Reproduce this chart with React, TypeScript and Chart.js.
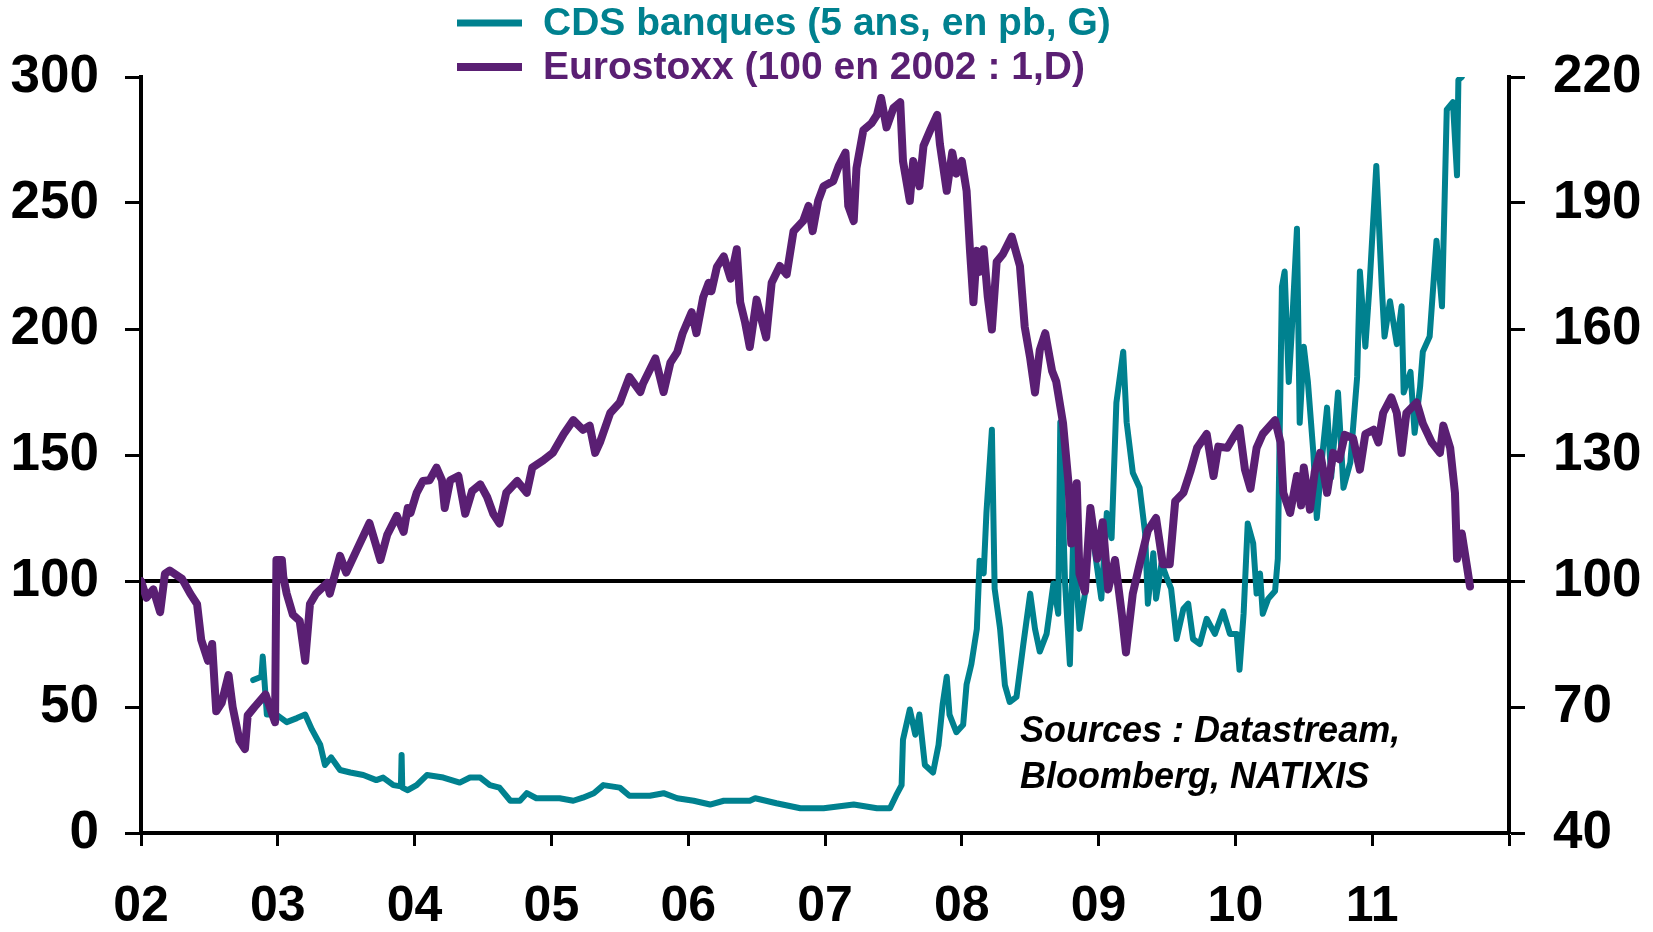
import React, { useEffect, useRef } from "react";
import { Chart, registerables } from "chart.js";

Chart.register(...registerables);

// ---- Data ----
const stoxxDates = [
  2002.0, 2002.04, 2002.09, 2002.14, 2002.175, 2002.21, 2002.3, 2002.36, 2002.41, 2002.44,
  2002.49, 2002.52, 2002.55, 2002.59, 2002.64, 2002.67, 2002.72, 2002.76, 2002.78, 2002.83,
  2002.91, 2002.98, 2002.99, 2003.03, 2003.04, 2003.065, 2003.11, 2003.16, 2003.2, 2003.235,
  2003.28, 2003.36, 2003.38, 2003.455, 2003.5, 2003.58, 2003.67, 2003.75, 2003.8, 2003.87,
  2003.92, 2003.95, 2003.97, 2004.015, 2004.06, 2004.11, 2004.16, 2004.2, 2004.22, 2004.26,
  2004.32, 2004.37, 2004.42, 2004.48, 2004.53, 2004.575, 2004.62, 2004.67, 2004.75, 2004.82,
  2004.86, 2004.94, 2005.01, 2005.09, 2005.16, 2005.23, 2005.28, 2005.32, 2005.355, 2005.43,
  2005.5, 2005.57, 2005.65, 2005.67, 2005.76, 2005.82, 2005.87, 2005.92, 2005.96, 2006.025,
  2006.06, 2006.11, 2006.15, 2006.17, 2006.21, 2006.26, 2006.31, 2006.355, 2006.38, 2006.415,
  2006.45, 2006.5, 2006.54, 2006.57, 2006.61, 2006.67, 2006.72, 2006.77, 2006.84, 2006.88,
  2006.91, 2006.95, 2006.99, 2007.06, 2007.1, 2007.15, 2007.17, 2007.21, 2007.23, 2007.28,
  2007.34, 2007.38, 2007.41, 2007.45, 2007.5, 2007.55, 2007.57, 2007.62, 2007.645, 2007.69,
  2007.72, 2007.77, 2007.82, 2007.84, 2007.89, 2007.93, 2007.96, 2008.0, 2008.035, 2008.06,
  2008.085, 2008.11, 2008.13, 2008.16, 2008.19, 2008.22, 2008.255, 2008.3, 2008.365, 2008.425,
  2008.46, 2008.5, 2008.535, 2008.57, 2008.61, 2008.66, 2008.69, 2008.74, 2008.78, 2008.8,
  2008.84, 2008.86, 2008.9, 2008.94, 2008.99, 2009.03, 2009.07, 2009.12, 2009.17, 2009.2,
  2009.25, 2009.3, 2009.36, 2009.42, 2009.47, 2009.52, 2009.56, 2009.62, 2009.67, 2009.72,
  2009.79, 2009.84, 2009.875, 2009.94, 2010.0, 2010.03, 2010.07, 2010.11, 2010.155, 2010.2,
  2010.29, 2010.33, 2010.35, 2010.4, 2010.45, 2010.48, 2010.5, 2010.545, 2010.58, 2010.62,
  2010.67, 2010.715, 2010.76, 2010.8, 2010.86, 2010.91, 2010.95, 2011.01, 2011.045, 2011.08,
  2011.14, 2011.18, 2011.215, 2011.25, 2011.325, 2011.37, 2011.435, 2011.495, 2011.52, 2011.57,
  2011.605, 2011.62, 2011.655, 2011.69, 2011.715,
];
const stoxxValues = [
  100, 96, 98, 92.6, 101.7, 102.5, 100.5, 97, 94.5, 86,
  81, 85, 69, 71, 77.6, 70, 62, 60, 68, 70,
  73, 66.4, 105, 105, 101, 97, 92, 90.5, 81, 94.5,
  97, 99.5, 97, 106, 102, 107.6, 113.8, 105, 111, 115.5,
  111.7, 117.4, 116.2, 121, 123.8, 124, 127, 124, 117.4, 124,
  125, 116, 121.4, 123, 120, 116, 113.7, 121, 123.8, 121,
  127, 128.7, 130.5, 135, 138.3, 136, 137, 130.5, 133, 140,
  142.5, 148.6, 145, 147, 153, 145, 152, 154.5, 159, 164,
  159, 167.6, 171, 169, 174.8, 177.3, 172, 179, 166.4, 161.7,
  155.7, 167, 161.7, 158, 171, 175, 173, 183.3, 185.7, 189.3,
  183.3, 190.5, 194, 195.2, 198.8, 202, 189.3, 185.7, 198.3, 207.3,
  209, 211, 215, 208, 212.6, 214, 200, 190.5, 200, 194,
  203.6, 207.4, 211, 204, 192.9, 202, 197, 200, 192.9, 178.6,
  166.4, 178.6, 173.6, 179, 167.6, 159.9, 176, 177.8, 182, 175,
  160.5, 153, 144.9, 155, 159, 150, 147.5, 137.6, 123.3, 108.9,
  123.3, 101.7, 97.5, 117.4, 105.3, 114, 98, 105, 92, 83,
  97, 104, 112, 115, 104, 104, 119, 121, 126, 131.7,
  135, 125, 132, 131.7, 135, 136.4, 126.5, 122, 131.7, 135,
  138.3, 133, 121, 116.2, 125, 118, 127, 117, 126, 130.5,
  121, 130.5, 129, 134.8, 134, 126.5, 135, 136, 133, 140,
  143.7, 140, 130.5, 140, 142.5, 137.5, 133, 130.5, 137, 131.7,
  121, 105.3, 111.3, 104, 98.7,
];

const cdsDates = [
  2002.82, 2002.88, 2002.89, 2002.92, 2002.99, 2003.065, 2003.14, 2003.2, 2003.25, 2003.31,
  2003.345, 2003.39, 2003.455, 2003.53, 2003.625, 2003.72, 2003.77, 2003.845, 2003.9, 2003.905,
  2003.91, 2003.95, 2004.015, 2004.09, 2004.21, 2004.33, 2004.405, 2004.48, 2004.55, 2004.62,
  2004.7, 2004.77, 2004.82, 2004.89, 2005.06, 2005.16, 2005.23, 2005.31, 2005.38, 2005.5,
  2005.57, 2005.72, 2005.82, 2005.92, 2006.04, 2006.16, 2006.26, 2006.45, 2006.49, 2006.645,
  2006.82, 2006.99, 2007.21, 2007.38, 2007.475, 2007.52, 2007.56, 2007.57, 2007.62, 2007.66,
  2007.69, 2007.73, 2007.79, 2007.83, 2007.86, 2007.89, 2007.91, 2007.96, 2008.01, 2008.035,
  2008.07, 2008.11, 2008.13, 2008.16, 2008.18, 2008.22, 2008.24, 2008.28, 2008.315, 2008.35,
  2008.4, 2008.45, 2008.5, 2008.535, 2008.57, 2008.62, 2008.67, 2008.705, 2008.72, 2008.755,
  2008.79, 2008.815, 2008.86, 2008.9, 2008.94, 2008.97, 2009.02, 2009.06, 2009.095, 2009.13,
  2009.18, 2009.205, 2009.25, 2009.3, 2009.34, 2009.36, 2009.4, 2009.42, 2009.46, 2009.5,
  2009.53, 2009.57, 2009.62, 2009.655, 2009.69, 2009.74, 2009.79, 2009.85, 2009.91, 2009.96,
  2010.01, 2010.03, 2010.06, 2010.09, 2010.13, 2010.155, 2010.18, 2010.2, 2010.24, 2010.29,
  2010.31, 2010.34, 2010.36, 2010.39, 2010.41, 2010.45, 2010.47, 2010.5, 2010.53, 2010.57,
  2010.595, 2010.63, 2010.67, 2010.7, 2010.75, 2010.79, 2010.84, 2010.89, 2010.91, 2010.95,
  2010.98, 2011.03, 2011.07, 2011.09, 2011.13, 2011.18, 2011.215, 2011.23, 2011.28, 2011.31,
  2011.35, 2011.37, 2011.42, 2011.47, 2011.51, 2011.53, 2011.545, 2011.59, 2011.62, 2011.63,
  2011.655,
];
const cdsValues = [
  60.7, 62, 70, 47, 47, 44, 45.6, 47, 41, 35,
  27, 30, 25, 24, 23, 21, 22, 19, 18.5, 31,
  18, 17, 19, 23, 22, 20, 22, 22, 19, 18,
  12.8, 12.8, 15.8, 13.8, 13.8, 12.8, 14, 15.8, 19, 18,
  14.8, 14.8, 15.8, 13.8, 12.8, 11.3, 12.8, 12.8, 13.8, 11.8,
  9.8, 9.8, 11.3, 9.8, 9.8, 14.9, 19, 37, 49, 39,
  47, 27, 24, 35, 51, 62, 47, 40, 43, 59,
  67, 81, 108, 103, 127, 160, 97, 81, 58.7, 52,
  54, 75, 95, 81, 72, 79, 99, 87, 163, 99,
  67, 119, 81, 95, 127, 112.8, 93, 127, 117, 170.8,
  191, 163, 143, 137, 119, 91, 111, 93, 107, 101,
  97, 77, 89, 91, 77, 75, 85, 79, 88, 79,
  79, 64.8, 87, 122.8, 115, 95, 103, 87, 93, 96,
  108.8, 216.8, 222.8, 179, 197, 239.8, 162.8, 193, 179, 150.8,
  125, 147, 168.8, 141, 174.8, 137, 147, 181, 222.8, 193,
  216.8, 264.7, 216.8, 197, 211, 194, 209, 174.8, 183, 158.8,
  177, 191, 197, 235, 209, 252.8, 287, 290, 261, 298.8,
  300,
];

const xTickYears = [2002, 2003, 2004, 2005, 2006, 2007, 2008, 2009, 2010, 2011];
const xTickLabels = ["02", "03", "04", "05", "06", "07", "08", "09", "10", "11"];
const legendLabels = ["CDS banques (5 ans, en pb, G)", "Eurostoxx (100 en 2002 : 1,D)"];
const sourceLines = ["Sources : Datastream,", "Bloomberg, NATIXIS"];
const referenceLevel = 100;

const TEAL = "#00818F";
const PURPLE = "#5A1F73";
const FONT = '"Liberation Sans", Arial, sans-serif';

const overlayPlugin = {
  id: "overlay",
  beforeDatasetsDraw(chart: any) {
    const { ctx, chartArea, scales } = chart;
    const y = scales.y.getPixelForValue(referenceLevel);
    ctx.save();
    ctx.strokeStyle = "#000";
    ctx.lineWidth = 4;
    ctx.beginPath();
    ctx.moveTo(chartArea.left, y);
    ctx.lineTo(chartArea.right, y);
    ctx.stroke();
    ctx.restore();
  },
  afterDraw(chart: any) {
    const { ctx } = chart;
    ctx.save();
    const rows = [
      { y: 23, color: TEAL, lw: 7, text: legendLabels[0] },
      { y: 67, color: PURPLE, lw: 8, text: legendLabels[1] },
    ];
    rows.forEach((r) => {
      ctx.strokeStyle = r.color;
      ctx.lineWidth = r.lw;
      ctx.lineCap = "butt";
      ctx.beginPath();
      ctx.moveTo(457, r.y);
      ctx.lineTo(522, r.y);
      ctx.stroke();
      ctx.fillStyle = r.color;
      ctx.font = `bold 39px ${FONT}`;
      ctx.textBaseline = "middle";
      ctx.textAlign = "left";
      ctx.fillText(r.text, 543, r.y + 1);
    });
    ctx.fillStyle = "#000";
    ctx.font = `italic bold 36px ${FONT}`;
    ctx.textBaseline = "middle";
    ctx.fillText(sourceLines[0], 1020, 732);
    ctx.fillText(sourceLines[1], 1020, 778);
    ctx.restore();
  },
};

export default function App() {
  const canvasRef = useRef<HTMLCanvasElement | null>(null);

  useEffect(() => {
    if (!canvasRef.current) return;
    const xFont = { family: FONT, size: 50, weight: "bold" as const };
    const yFont = { family: FONT, size: 53, weight: "bold" as const };
    const axisGrid = (len: number) => ({
      display: true,
      drawOnChartArea: false,
      drawTicks: true,
      tickLength: len,
      tickWidth: 3,
      tickColor: "#000",
    });
    const chart = new Chart(canvasRef.current, {
      type: "line",
      data: {
        datasets: [
          {
            label: legendLabels[0],
            data: cdsDates.map((x, i) => ({ x, y: cdsValues[i] })),
            borderColor: TEAL,
            borderWidth: 6,
            pointRadius: 0,
            tension: 0,
            yAxisID: "y",
            order: 2,
            borderJoinStyle: "round",
            borderCapStyle: "round",
          },
          {
            label: legendLabels[1],
            data: stoxxDates.map((x, i) => ({ x, y: stoxxValues[i] })),
            borderColor: PURPLE,
            borderWidth: 8,
            pointRadius: 0,
            tension: 0,
            yAxisID: "y1",
            order: 1,
            borderJoinStyle: "round",
            borderCapStyle: "round",
          },
        ],
      },
      options: {
        responsive: false,
        animation: false,
        layout: { padding: { top: 77, left: 0, right: 0, bottom: 0 } },
        plugins: { legend: { display: false }, tooltip: { enabled: false } },
        scales: {
          x: {
            type: "linear",
            min: 2002,
            max: 2012,
            afterFit: (s: any) => {
              s.height = 99;
            },
            afterBuildTicks: (s: any) => {
              s.ticks = [...xTickYears, 2012].map((v) => ({ value: v }));
            },
            ticks: {
              autoSkip: false,
              maxRotation: 0,
              padding: 31,
              color: "#000",
              font: xFont,
              callback: (v: any) => {
                const i = xTickYears.indexOf(Number(v));
                return i >= 0 ? xTickLabels[i] : "";
              },
            },
            grid: axisGrid(13),
            border: { display: true, color: "#000", width: 4 },
          },
          y: {
            position: "left",
            min: 0,
            max: 300,
            afterFit: (s: any) => {
              s.width = 141;
            },
            ticks: { stepSize: 50, padding: 26, color: "#000", font: yFont },
            grid: axisGrid(16),
            border: { display: true, color: "#000", width: 4 },
          },
          y1: {
            position: "right",
            min: 40,
            max: 220,
            afterFit: (s: any) => {
              s.width = 144;
            },
            ticks: { stepSize: 30, padding: 28, color: "#000", font: yFont },
            grid: axisGrid(16),
            border: { display: true, color: "#000", width: 4 },
          },
        },
      },
      plugins: [overlayPlugin],
    });
    return () => chart.destroy();
  }, []);

  return (
    <div style={{ position: "absolute", left: 0, top: 0, width: 1653, height: 932, background: "#fff" }}>
      <canvas ref={canvasRef} width={1653} height={932} />
    </div>
  );
}
